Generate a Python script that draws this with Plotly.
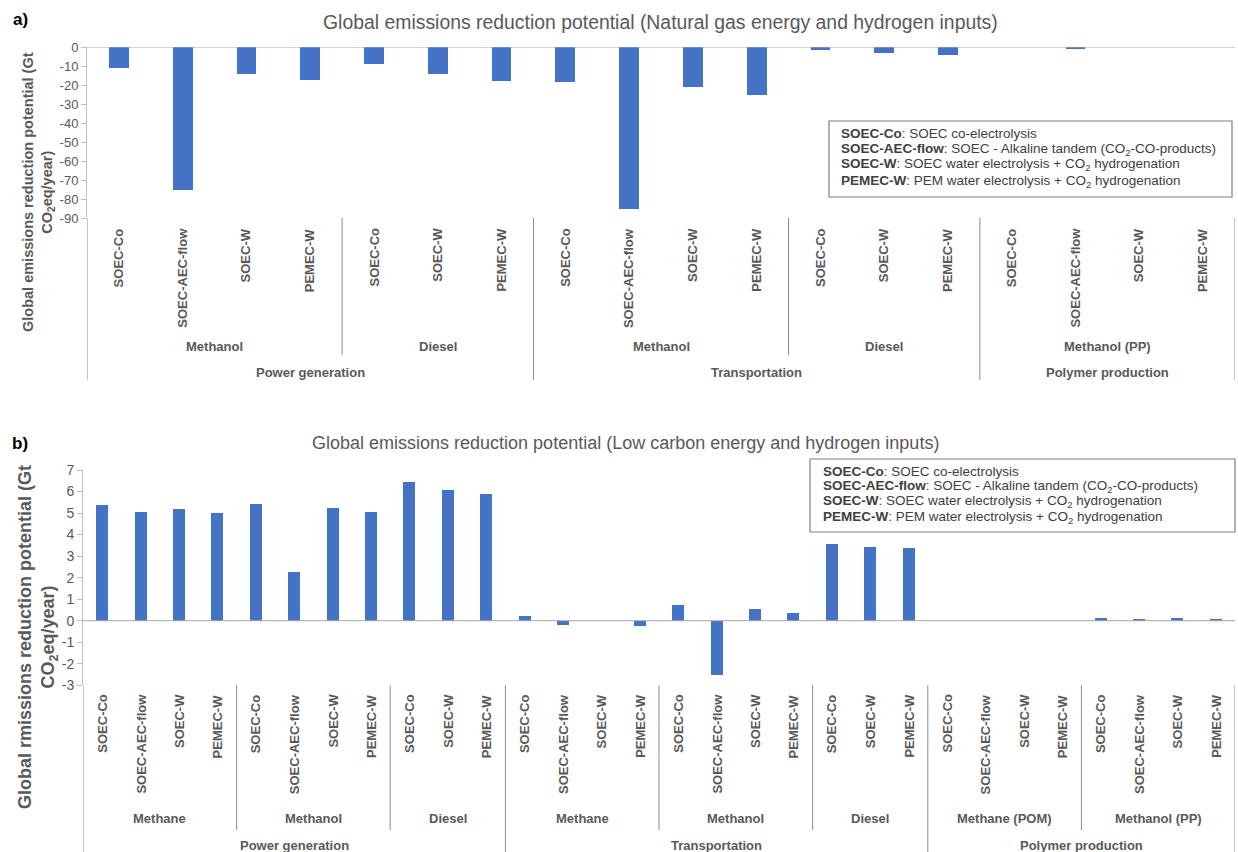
import plotly.graph_objects as go

W, H = 1238, 852
BAR = "#4472C4"
TXT = "#595959"
FONT = "Liberation Sans, Arial, sans-serif"

# ---- Panel a: natural gas energy and hydrogen inputs ----
a_sector = ["Power generation"] * 7 + ["Transportation"] * 7 + ["Polymer production"] * 4
a_product = (["Methanol"] * 4 + ["Diesel"] * 3 + ["Methanol"] * 4 + ["Diesel"] * 3
             + ["Methanol (PP)"] * 4)
a_tech = ["SOEC-Co", "SOEC-AEC-flow", "SOEC-W", "PEMEC-W",
          "SOEC-Co", "SOEC-W", "PEMEC-W",
          "SOEC-Co", "SOEC-AEC-flow", "SOEC-W", "PEMEC-W",
          "SOEC-Co", "SOEC-W", "PEMEC-W",
          "SOEC-Co", "SOEC-AEC-flow", "SOEC-W", "PEMEC-W"]
a_values = [-11, -75.5, -14, -17.5,
            -9, -14, -18,
            -18.5, -85, -21, -25,
            -1.5, -3, -4.3,
            0, -1.2, 0, 0]
a_ticks = [0, -10, -20, -30, -40, -50, -60, -70, -80, -90]

# ---- Panel b: low carbon energy and hydrogen inputs ----
b_sector = ["Power generation"] * 11 + ["Transportation"] * 11 + ["Polymer production"] * 8
b_product = (["Methane"] * 4 + ["Methanol"] * 4 + ["Diesel"] * 3
             + ["Methane"] * 4 + ["Methanol"] * 4 + ["Diesel"] * 3
             + ["Methane (POM)"] * 4 + ["Methanol (PP)"] * 4)
b_tech = ["SOEC-Co", "SOEC-AEC-flow", "SOEC-W", "PEMEC-W",
          "SOEC-Co", "SOEC-AEC-flow", "SOEC-W", "PEMEC-W",
          "SOEC-Co", "SOEC-W", "PEMEC-W",
          "SOEC-Co", "SOEC-AEC-flow", "SOEC-W", "PEMEC-W",
          "SOEC-Co", "SOEC-AEC-flow", "SOEC-W", "PEMEC-W",
          "SOEC-Co", "SOEC-W", "PEMEC-W",
          "SOEC-Co", "SOEC-AEC-flow", "SOEC-W", "PEMEC-W",
          "SOEC-Co", "SOEC-AEC-flow", "SOEC-W", "PEMEC-W"]
b_values = [5.39, 5.06, 5.19, 5.0,
            5.43, 2.24, 5.22, 5.06,
            6.44, 6.08, 5.88,
            0.2, -0.2, 0, -0.26,
            0.73, -2.51, 0.54, 0.37,
            3.54, 3.44, 3.37,
            0, 0, 0, 0,
            0.14, 0.09, 0.14, 0.09]
b_ticks = [7, 6, 5, 4, 3, 2, 1, 0, -1, -2, -3]

legend_lines = [
    "<b>SOEC-Co</b>: SOEC co-electrolysis",
    "<b>SOEC-AEC-flow</b>: SOEC - Alkaline tandem (CO<sub>2</sub>-CO-products)",
    "<b>SOEC-W</b>: SOEC water electrolysis + CO<sub>2</sub> hydrogenation",
    "<b>PEMEC-W</b>: PEM water electrolysis + CO<sub>2</sub> hydrogenation",
]


def px(x):
    return x / W


def py(y):
    return 1 - y / H


panels = [
    dict(tag="a)", title="Global emissions reduction potential (Natural gas energy and hydrogen inputs)",
         title_size=19.4,
         ytitle="<b>Global emissions reduction potential (Gt<br>CO<sub>2</sub>eq/year)</b>",
         sector=a_sector, product=a_product, tech=a_tech, values=a_values, ticks=a_ticks,
         xa="x", ya="y", left=87, right=1235, top=47, bottom=218,
         tag_xy=(20, 19), title_xy=(660, 22), ytitle_xy=(38, 192), ytitle_size=14.5,
         tick_size=13, lab_top=226, prod_y=347, sect_y=372, short_end=355, tall_end=380,
         box=(829, 121, 1232, 197), leg_x=839, leg_y=[134, 149.5, 165, 181]),
    dict(tag="b)", title="Global emissions reduction potential (Low carbon energy and hydrogen inputs)",
         title_size=18,
         ytitle="<b>Global rmissions reduction potential (Gt<br>CO<sub>2</sub>eq/year)</b>",
         sector=b_sector, product=b_product, tech=b_tech, values=b_values, ticks=b_ticks,
         xa="x2", ya="y2", left=83, right=1235, top=470, bottom=685.3,
         tag_xy=(20, 443), title_xy=(625, 443), ytitle_xy=(38, 637), ytitle_size=18,
         tick_size=14, lab_top=692, prod_y=818, sect_y=845, short_end=830, tall_end=852,
         box=(810, 459, 1235, 532), leg_x=821, leg_y=[471, 486.5, 502, 517]),
]

fig = go.Figure()
annotations = []
shapes = []
layout_axes = {}

for p in panels:
    n = len(p["values"])
    xs = list(range(n))
    fig.add_trace(go.Bar(x=xs, y=p["values"], width=0.31, marker=dict(color=BAR, line=dict(width=0)),
                         xaxis=p["xa"], yaxis=p["ya"], showlegend=False, hoverinfo="skip"))

    xkey = "xaxis" if p["xa"] == "x" else "xaxis" + p["xa"][1:]
    ykey = "yaxis" if p["ya"] == "y" else "yaxis" + p["ya"][1:]
    layout_axes[xkey] = dict(domain=[px(p["left"]), px(p["right"])], range=[-0.5, n - 0.5],
                             showticklabels=False, showgrid=False, zeroline=False, showline=False,
                             ticks="", anchor=p["ya"], fixedrange=True)
    layout_axes[ykey] = dict(domain=[py(p["bottom"]), py(p["top"])],
                             range=[min(p["ticks"]), max(p["ticks"])],
                             tickvals=p["ticks"], ticktext=[str(t) for t in p["ticks"]],
                             tickfont=dict(size=p["tick_size"], color=TXT, family=FONT),
                             ticks="outside", ticklen=5, tickcolor="#BFBFBF",
                             showline=True, linecolor="#BFBFBF", linewidth=1,
                             showgrid=False, zeroline=False, anchor=p["xa"], fixedrange=True)

    # horizontal axis at zero
    shapes.append(dict(type="line", xref=p["xa"], yref=p["ya"], x0=-0.5, x1=n - 0.5, y0=0, y1=0,
                       line=dict(color="#A6A6A6", width=1)))

    # category separators (short between products, tall between sectors and at the ends)
    bounds = [(-0.5, True)]
    for i in range(1, n):
        if p["sector"][i] != p["sector"][i - 1]:
            bounds.append((i - 0.5, True))
        elif p["product"][i] != p["product"][i - 1]:
            bounds.append((i - 0.5, False))
    bounds.append((n - 0.5, True))
    for xb, tall in bounds:
        shapes.append(dict(type="line", xref=p["xa"], yref="paper", x0=xb, x1=xb,
                           y0=py(p["bottom"]), y1=py(p["tall_end"] if tall else p["short_end"]),
                           line=dict(color="#8C8C8C", width=1)))

    # inner (technology) labels
    for i, t in enumerate(p["tech"]):
        annotations.append(dict(xref=p["xa"], yref="paper", x=i, y=py(p["lab_top"]), text="<b>" + t + "</b>",
                                textangle=-90, xanchor="center", yanchor="top", showarrow=False,
                                font=dict(size=13, color=TXT, family=FONT)))

    # product and sector labels centred under their runs
    def runs(keys):
        out, start = [], 0
        for i in range(1, n + 1):
            if i == n or keys[i] != keys[start]:
                out.append((keys[start], (start + i - 1) / 2))
                start = i
        return out

    for (sec, prod), xc in runs(list(zip(p["sector"], p["product"]))):
        annotations.append(dict(xref=p["xa"], yref="paper", x=xc, y=py(p["prod_y"]), text="<b>" + prod + "</b>",
                                xanchor="center", yanchor="middle", showarrow=False,
                                font=dict(size=13, color=TXT, family=FONT)))
    for sec, xc in runs(p["sector"]):
        annotations.append(dict(xref=p["xa"], yref="paper", x=xc, y=py(p["sect_y"]), text="<b>" + sec + "</b>",
                                xanchor="center", yanchor="middle", showarrow=False,
                                font=dict(size=13, color=TXT, family=FONT)))

    # panel tag, title, y-axis title
    annotations.append(dict(xref="paper", yref="paper", x=px(p["tag_xy"][0]), y=py(p["tag_xy"][1]),
                            text="<b>" + p["tag"] + "</b>", showarrow=False, xanchor="center", yanchor="middle",
                            font=dict(size=17, color="#000000", family=FONT)))
    annotations.append(dict(xref="paper", yref="paper", x=px(p["title_xy"][0]), y=py(p["title_xy"][1]),
                            text=p["title"], showarrow=False, xanchor="center", yanchor="middle",
                            font=dict(size=p["title_size"], color=TXT, family=FONT)))
    annotations.append(dict(xref="paper", yref="paper", x=px(p["ytitle_xy"][0]), y=py(p["ytitle_xy"][1]),
                            text=p["ytitle"], textangle=-90, showarrow=False, xanchor="center",
                            yanchor="middle", align="center",
                            font=dict(size=p["ytitle_size"], color=TXT, family=FONT)))

    # abbreviation key
    x0, y0, x1, y1 = p["box"]
    shapes.append(dict(type="rect", xref="paper", yref="paper", x0=px(x0), x1=px(x1), y0=py(y1), y1=py(y0),
                       line=dict(color="#7F7F7F", width=1.2), fillcolor="rgba(255,255,255,0)"))
    for line, ly in zip(legend_lines, p["leg_y"]):
        annotations.append(dict(xref="paper", yref="paper", x=px(p["leg_x"]), y=py(ly), text=line,
                                showarrow=False, xanchor="left", yanchor="middle", align="left",
                                font=dict(size=13.5, color="#404040", family=FONT)))

fig.update_layout(
    width=W, height=H, margin=dict(l=0, r=0, t=0, b=0, autoexpand=False),
    paper_bgcolor="white", plot_bgcolor="white",
    font=dict(family=FONT, color=TXT),
    annotations=annotations, shapes=shapes, showlegend=False, bargap=0,
    **layout_axes,
)

# let the figure sit flush in the page
fig.write_html("out.html", post_script="document.body.style.margin='0';")
